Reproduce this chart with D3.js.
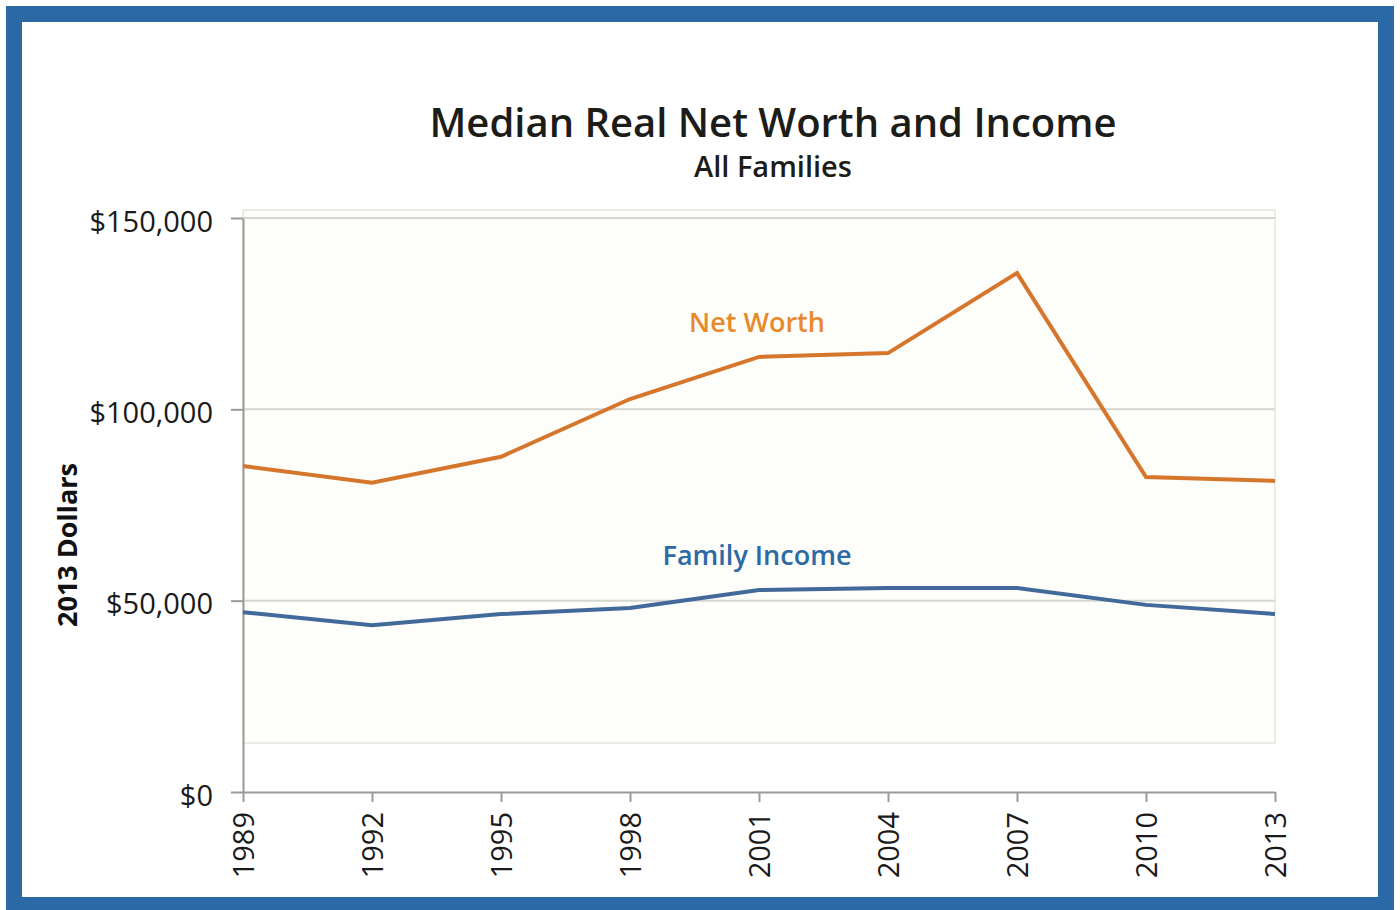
<!DOCTYPE html>
<html>
<head>
<meta charset="utf-8">
<script src="https://cdn.jsdelivr.net/npm/d3@7"></script>
<style>
  body { margin: 0; background: #fff; }
  svg { display: block; }
</style>
</head>
<body>
<svg width="1400" height="910"></svg>
<script>
// data (2013 dollars)
var years = [1989, 1992, 1995, 1998, 2001, 2004, 2007, 2010, 2013];
var netWorth = [85200, 80800, 87600, 102700, 113700, 114700, 135600, 82300, 81300];
var familyIncome = [47000, 43600, 46500, 48100, 52800, 53300, 53300, 48900, 46500];
var yTicks = [0, 50000, 100000, 150000];

var svg = d3.select("svg");

// blue frame
svg.append("rect")
    .attr("x", 14).attr("y", 14)
    .attr("width", 1372).attr("height", 891)
    .attr("fill", "#fff")
    .attr("stroke", "#2a69a5").attr("stroke-width", 16);

var pLeft = 243, pRight = 1275, pTop = 218, pBottom = 792;

var x = d3.scalePoint().domain(years).range([pLeft, pRight]);
var y = d3.scaleLinear().domain([0, 150000]).range([pBottom, pTop]);

// cream plot area (stops short of the axis, like the original)
svg.append("rect")
    .attr("x", pLeft).attr("y", 210)
    .attr("width", pRight - pLeft).attr("height", 743 - 210)
    .attr("fill", "#fdfdf9")
    .attr("stroke", "#e4e4e0").attr("stroke-width", 1.5);

// gridlines
svg.append("g").selectAll("line")
    .data(yTicks.filter(d => d > 0)).enter()
    .append("line")
    .attr("x1", pLeft).attr("x2", pRight)
    .attr("y1", d => y(d)).attr("y2", d => y(d))
    .attr("stroke", "#d6d6d0").attr("stroke-width", 2);

// y axis
var yAxis = svg.append("g")
    .attr("transform", "translate(" + pLeft + ",0)")
    .call(d3.axisLeft(y).tickValues(yTicks)
        .tickFormat(d => "$" + d3.format(",")(d))
        .tickSize(12).tickSizeOuter(0).tickPadding(18));
yAxis.select(".domain").attr("stroke", "#9a9a9a").attr("stroke-width", 2);
yAxis.selectAll(".tick line").attr("stroke", "#9a9a9a").attr("stroke-width", 2);
yAxis.selectAll("text")
    .attr("font-family", "Open Sans, sans-serif")
    .attr("font-size", 29).attr("fill", "#1a1a1a")
    .attr("dy", "0.45em");

// x axis
var xAxis = svg.append("g")
    .attr("transform", "translate(0," + pBottom + ")")
    .call(d3.axisBottom(x).tickSize(10).tickSizeOuter(0));
xAxis.select(".domain").attr("stroke", "#9a9a9a").attr("stroke-width", 2);
xAxis.selectAll(".tick line").attr("stroke", "#9a9a9a").attr("stroke-width", 2);
xAxis.selectAll("text")
    .attr("font-family", "Open Sans, sans-serif")
    .attr("font-size", 29).attr("fill", "#1a1a1a")
    .attr("text-anchor", "end")
    .attr("transform", "rotate(-90)")
    .attr("x", -20).attr("y", 0).attr("dy", "0.35em");

// lines
var lnMkr = d3.line().x((d, i) => x(years[i])).y(d => y(d));
svg.append("path").attr("d", lnMkr(netWorth))
    .attr("fill", "none").attr("stroke", "#d6762c").attr("stroke-width", 4);
svg.append("path").attr("d", lnMkr(familyIncome))
    .attr("fill", "none").attr("stroke", "#41699a").attr("stroke-width", 4);

// series labels
svg.append("text").text("Net Worth")
    .attr("x", 757).attr("y", 332).attr("text-anchor", "middle")
    .attr("font-family", "Open Sans, sans-serif").attr("font-weight", 600)
    .attr("font-size", 27).attr("fill", "#e8892c");
svg.append("text").text("Family Income")
    .attr("x", 757).attr("y", 565).attr("text-anchor", "middle")
    .attr("font-family", "Open Sans, sans-serif").attr("font-weight", 600)
    .attr("font-size", 27).attr("fill", "#2c69a6");

// titles
svg.append("text").text("Median Real Net Worth and Income")
    .attr("x", 773).attr("y", 137).attr("text-anchor", "middle")
    .attr("font-family", "Open Sans, sans-serif").attr("font-weight", 600)
    .attr("font-size", 40).attr("fill", "#1c1c18");
svg.append("text").text("All Families")
    .attr("x", 773).attr("y", 177).attr("text-anchor", "middle")
    .attr("font-family", "Open Sans, sans-serif").attr("font-weight", 600)
    .attr("font-size", 29).attr("fill", "#1c1c18");

// y axis label
svg.append("text").text("2013 Dollars")
    .attr("transform", "translate(77,545) rotate(-90)")
    .attr("text-anchor", "middle")
    .attr("font-family", "Open Sans, sans-serif").attr("font-weight", 700)
    .attr("font-size", 27).attr("fill", "#111");
</script>
</body>
</html>
